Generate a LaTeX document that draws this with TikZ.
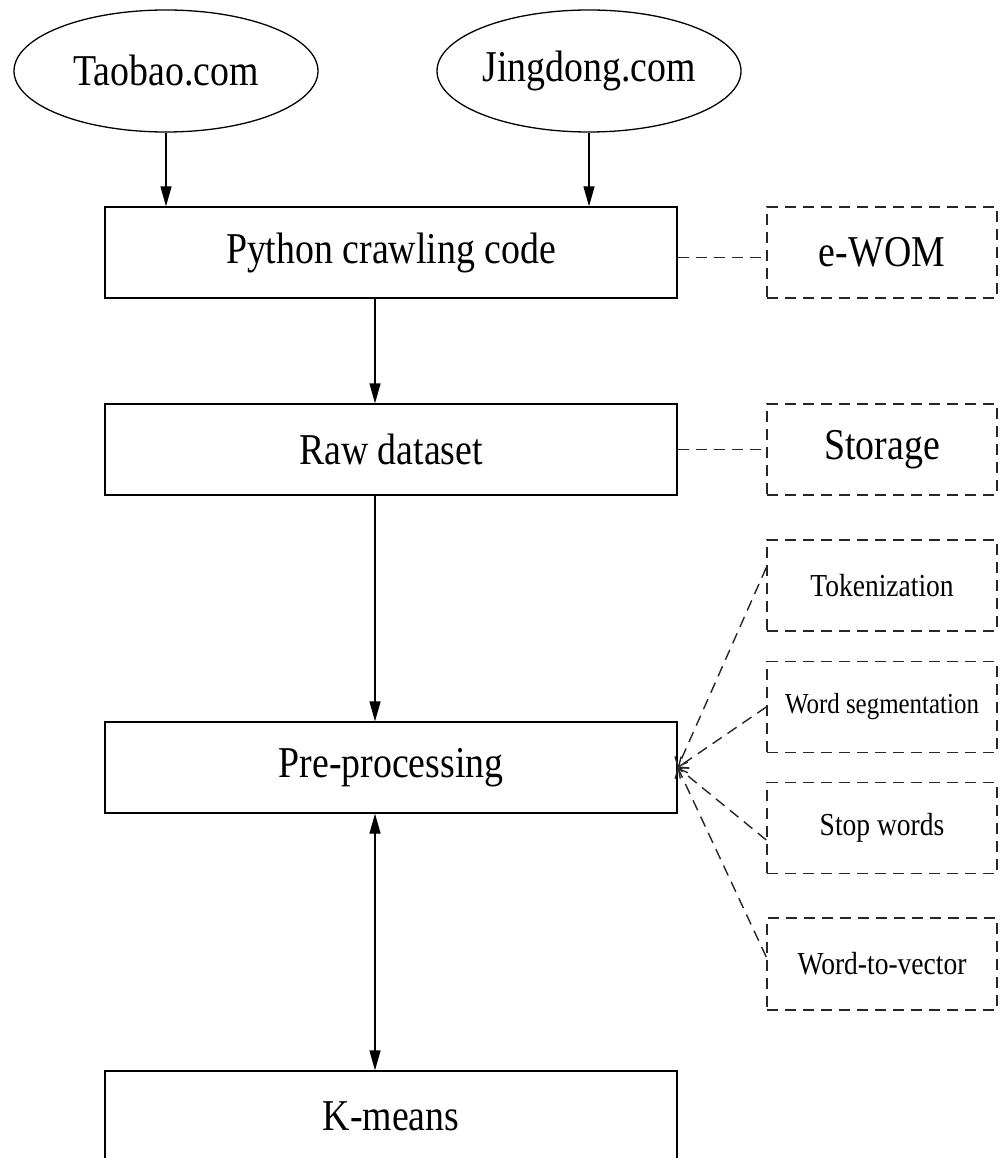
\documentclass[tikz,border=0pt]{standalone}
\usepackage{fontspec}
\setmainfont[FakeStretch=0.86]{Liberation Serif}
\usetikzlibrary{arrows.meta,shapes.geometric}
\begin{document}
\begin{tikzpicture}[x=1pt,y=-1pt,
  mainbox/.style={draw, line width=1.3pt, minimum width=572pt, minimum height=91pt, inner sep=0pt, font=\fontsize{44}{46}\selectfont},
  sidebox/.style={draw=black!85, line width=1.4pt, dash pattern=on 11pt off 7pt, minimum width=230pt, minimum height=91pt, inner sep=0pt, font=\fontsize{44}{46}\selectfont},
  smallbox/.style={sidebox, font=\fontsize{32}{34}\selectfont},
  site/.style={draw, ellipse, line width=1.3pt, minimum width=304pt, minimum height=122pt, inner sep=0pt, font=\fontsize{44}{46}\selectfont},
  arr/.style={line width=1.3pt, -{Triangle[length=20pt,width=11pt]}},
  darr/.style={line width=1.3pt, {Triangle[length=20pt,width=11pt]}-{Triangle[length=20pt,width=11pt]}},
  link/.style={draw=black!85, line width=1.4pt, dash pattern=on 11pt off 7pt},
  darrow/.style={link, -{Straight Barb[length=8pt,width=14pt]}}
]
\useasboundingbox (0,0) rectangle (1008,1158);
\clip (0,0) rectangle (1008,1158);
\node[site] (tb) at (166,71) {Taobao.com};
\node[site] (jd) at (589,71) {Jingdong.com};
\node[mainbox] (py) at (391,252.5) {Python crawling code};
\node[mainbox] (raw) at (391,449.5) {Raw dataset};
\node[mainbox] (pre) at (391,767.5) {Pre-processing};
\node[mainbox] (km) at (391,1116.5) {K-means};
\node[sidebox] (ewom) at (882,252.5) {e-WOM};
\node[sidebox] (sto) at (882,449.5) {Storage};
\node[smallbox] (tok) at (882,585.5) {Tokenization};
\node[smallbox, font=\fontsize{29}{31}\selectfont] (ws) at (882,707) {Word segmentation};
\node[smallbox] (sw) at (882,828) {Stop words};
\node[smallbox, minimum height=92pt] (wv) at (882,964) {Word-to-vector};
\draw[arr] (tb.south) -- (tb.south |- py.north);
\draw[arr] (jd.south) -- (jd.south |- py.north);
\draw[arr] ([xshift=-16pt]py.south) -- ([xshift=-16pt]raw.north);
\draw[arr] ([xshift=-16pt]raw.south) -- ([xshift=-16pt]pre.north);
\draw[darr] ([xshift=-16pt]pre.south) -- ([xshift=-16pt]km.north);
\draw[link] ([yshift=-5pt]py.east) -- ([yshift=-5pt]ewom.west);
\draw[link] (raw.east) -- (sto.west);
\draw[darrow] ([yshift=18pt]tok.west) -- (pre.east);
\draw[darrow] (ws.west) -- (pre.east);
\draw[darrow] ([yshift=-12pt]sw.west) -- (pre.east);
\draw[darrow] ([yshift=7pt]wv.west) -- (pre.east);
\end{tikzpicture}
\end{document}
